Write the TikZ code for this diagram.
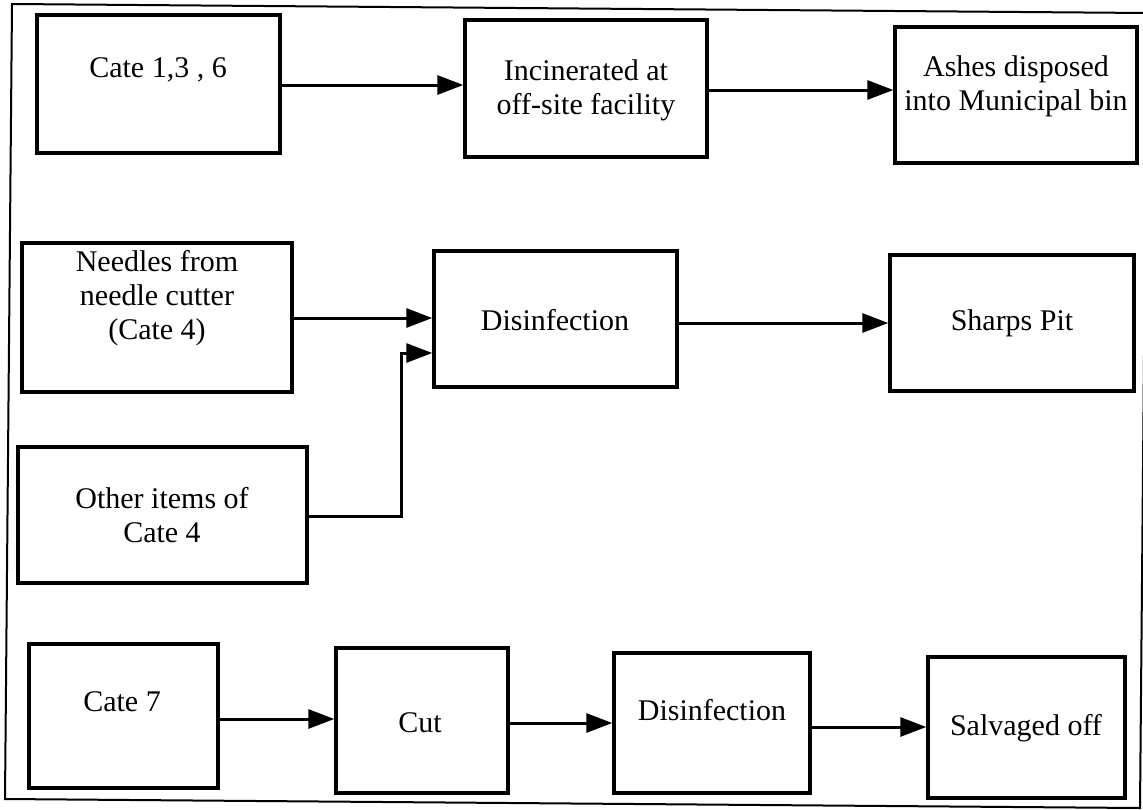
\documentclass[tikz,border=0pt]{standalone}
\usepackage{fontspec}
\setmainfont{Liberation Serif}
\usetikzlibrary{arrows.meta}

\begin{document}
\begin{tikzpicture}[x=1pt,y=-1pt,
  box/.style={draw=black, line width=3.4pt, fill=white, inner sep=0pt},
  lbl/.style={font=\fontsize{30}{34}\selectfont, align=center, inner sep=0pt},
  arr/.style={line width=3pt, -{Triangle[length=26pt,width=19pt]}},
  frame/.style={line width=2pt, line join=miter}]
  \useasboundingbox (0,0) rectangle (1143,809);

  % outer border
  \draw[frame] (12,4) -- (1147,13) -- (1140,808) -- (5,799) -- cycle;

  % first row: incineration
  \node[box, minimum width=243pt, minimum height=138pt] (cat136) at (158.5,84) {};
  \node[box, minimum width=242pt, minimum height=137pt] (incin) at (586,88.5) {};
  \node[box, minimum width=242pt, minimum height=136pt] (ashes) at (1016,95) {};
  \node[lbl] (cat136-t) at (158,70) {Cate 1,3 , 6};
  \node[lbl] (incin-t) at (586,90) {Incinerated at\\off-site facility};
  \node[lbl] (ashes-t) at (1016,86) {Ashes disposed\\into Municipal bin};

  % second row: sharps
  \node[box, minimum width=270pt, minimum height=149pt] (needles) at (157,317.5) {};
  \node[box, minimum width=243pt, minimum height=136pt] (disinf) at (555.5,319) {};
  \node[box, minimum width=244pt, minimum height=136pt] (sharps) at (1012,323) {};
  \node[box, minimum width=289pt, minimum height=136pt] (other) at (162.5,515) {};
  \node[lbl] (needles-t) at (157,298) {Needles from\\needle cutter\\(Cate 4)};
  \node[lbl] (disinf-t) at (555,320) {Disinfection};
  \node[lbl] (sharps-t) at (1012,323) {Sharps Pit};
  \node[lbl] (other-t) at (162,515.5) {Other items of\\Cate 4};

  % third row: category 7
  \node[box, minimum width=189pt, minimum height=144pt] (cat7) at (123.5,716) {};
  \node[box, minimum width=172pt, minimum height=145pt] (cut) at (422,720.5) {};
  \node[box, minimum width=196pt, minimum height=140pt] (disinf2) at (712,723) {};
  \node[box, minimum width=197pt, minimum height=141pt] (salv) at (1026.5,727.5) {};
  \node[lbl] (cat7-t) at (122,702) {Cate 7};
  \node[lbl] (cut-t) at (420,723) {Cut};
  \node[lbl] (disinf2-t) at (712,710) {Disinfection};
  \node[lbl] (salv-t) at (1026,728) {Salvaged off};

  % connectors
  \draw[arr] (cat136.east |- 0,85) -- (incin.west |- 0,85);
  \draw[arr] (incin.east |- 0,90) -- (ashes.west |- 0,90);
  \draw[arr] (needles.east |- 0,318) -- (disinf.west |- 0,318);
  \draw[arr] (other.east |- 0,516) -| (401,353) -- (disinf.west |- 0,353);
  \draw[arr] (disinf.east |- 0,323) -- (sharps.west |- 0,323);
  \draw[arr] (cat7.east |- 0,719) -- (cut.west |- 0,719);
  \draw[arr] (cut.east |- 0,723) -- (disinf2.west |- 0,723);
  \draw[arr] (disinf2.east |- 0,727) -- (salv.west |- 0,727);
\end{tikzpicture}
\end{document}
